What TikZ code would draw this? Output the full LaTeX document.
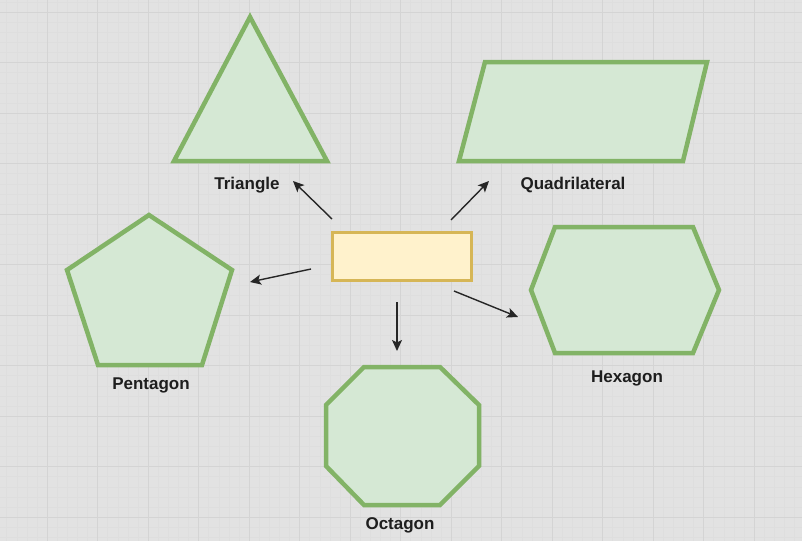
\documentclass[tikz,border=0pt]{standalone}
\usepackage{fontspec}
\setmainfont{Liberation Sans}
\usetikzlibrary{arrows.meta}
\definecolor{bgc}{HTML}{E2E2E2}
\definecolor{gmaj}{HTML}{D4D4D4}
\definecolor{gmin}{HTML}{DEDEDE}
\definecolor{gfill}{HTML}{D5E8D4}
\definecolor{gline}{HTML}{82B366}
\definecolor{yfill}{HTML}{FFF2CC}
\definecolor{yline}{HTML}{D6B656}
\definecolor{txt}{HTML}{1E1E1E}
\tikzset{
  shapepoly/.style={draw=gline, fill=gfill, line width=4.5pt, line join=miter},
  lbl/.style={font=\fontsize{17}{19}\selectfont\bfseries, text=txt, inner sep=0pt},
  arr/.style={draw=black!85, line width=1.4pt, -{Stealth[length=11pt,width=10pt,inset=2.5pt]}},
  centerbox/.style={draw=yline, fill=yfill, line width=3pt, minimum width=139pt, minimum height=48pt, inner sep=0pt}
}
\begin{document}
\begin{tikzpicture}[x=1pt,y=-1pt]
\useasboundingbox (0,0) rectangle (802,541);
\fill[bgc] (0,0) rectangle (802,541);
% minor grid
\foreach \i in {0,...,80} {
  \draw[gmin, line width=0.4pt] ({-3.5+10.1*\i},0) -- ({-3.5+10.1*\i},541);
}
\foreach \i in {0,...,54} {
  \draw[gmin, line width=0.4pt] (0,{1.9+10.1*\i}) -- (802,{1.9+10.1*\i});
}
% major grid
\foreach \i in {-1,...,16} {
  \draw[gmaj, line width=1pt] ({47+50.5*\i},0) -- ({47+50.5*\i},541);
}
\foreach \i in {0,...,11} {
  \draw[gmaj, line width=1pt] (0,{12+50.5*\i}) -- (802,{12+50.5*\i});
}
% shapes
\draw[shapepoly] (250,17) -- (327,161) -- (174,161) -- cycle;
\draw[shapepoly] (485,62) -- (707,62) -- (683,161) -- (459,161) -- cycle;
\draw[shapepoly] (149,215) -- (232,270) -- (202,365) -- (98,365) -- (67,270) -- cycle;
\draw[shapepoly] (555,227) -- (693,227) -- (719,290) -- (693,353) -- (555,353) -- (531,290) -- cycle;
\draw[shapepoly] (364,367) -- (440,367) -- (479,405) -- (479,466) -- (440,505) -- (364,505) -- (326,466) -- (326,405) -- cycle;
% center
\node[centerbox] (center) at (402,256.5) {};
% labels
\node[lbl] (ltri) at (247,185.5) {Triangle};
\node[lbl] (lquad) at (573,185.5) {Quadrilateral};
\node[lbl] (lpent) at (151,385.5) {Pentagon};
\node[lbl] (lhex) at (627,378.5) {Hexagon};
\node[lbl] (loct) at (400,525.5) {Octagon};
% arrow endpoints
\coordinate (s1) at (332,219); \coordinate (e1) at (293,181);
\coordinate (s2) at (451,220); \coordinate (e2) at (489,181);
\coordinate (s3) at (311,269); \coordinate (e3) at (250,282);
\coordinate (s4) at (397,302); \coordinate (e4) at (397,351);
\coordinate (s5) at (454,291); \coordinate (e5) at (518,317);
\draw[arr] (s1) -- (e1);
\draw[arr] (s2) -- (e2);
\draw[arr] (s3) -- (e3);
\draw[arr] (s4) -- (e4);
\draw[arr] (s5) -- (e5);
\end{tikzpicture}
\end{document}
